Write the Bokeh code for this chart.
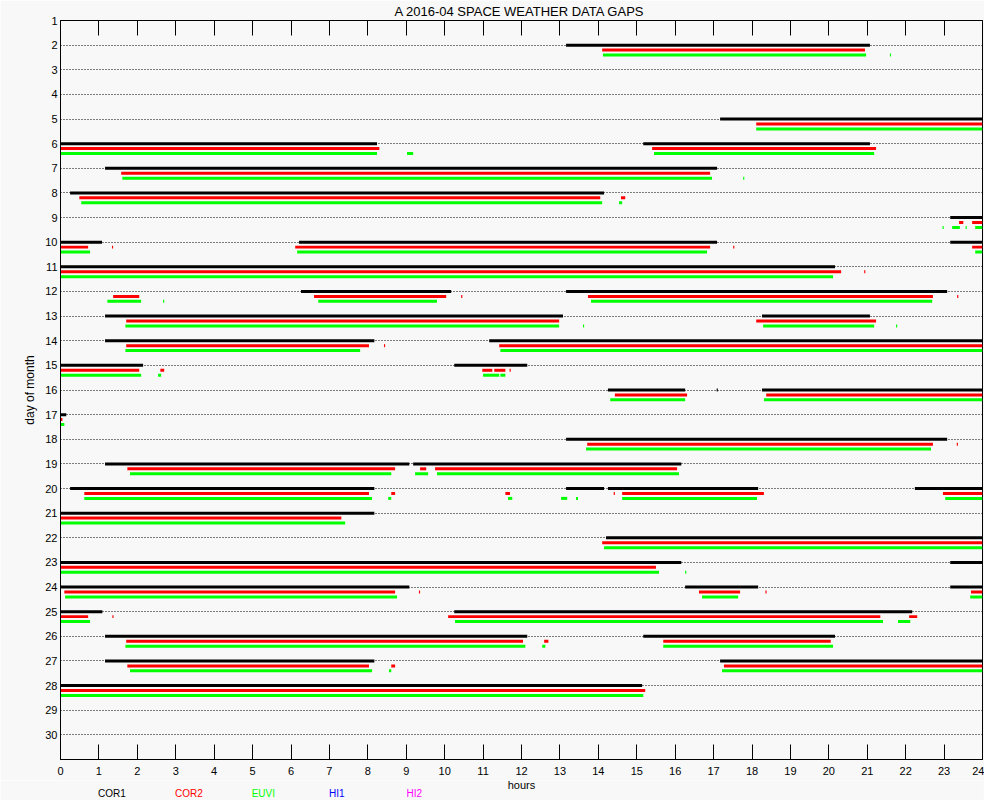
from bokeh.plotting import figure
from bokeh.layouts import column
from bokeh.models import Range1d, FixedTicker, LinearAxis, ColumnDataSource
from bokeh.core.properties import value
from bokeh.embed import file_html
from bokeh.resources import INLINE

TITLE = "A  2016-04 SPACE WEATHER DATA GAPS"
X_LABEL = "hours"
Y_LABEL = "day of month"
hour_ticks = list(range(0, 25))
day_ticks = list(range(1, 31))
legend_names = ["COR1", "COR2", "EUVI", "HI1", "HI2"]
legend_colors = ["#000000", "#ff0000", "#00ff00", "#0000ff", "#ff00ff"]

# ---- COR1 data gaps (day of month, start hour, end hour) ----
cor1_day = [2,
            5,
            6, 6,
            7,
            8,
            9,
            10, 10, 10,
            11,
            12, 12,
            13, 13,
            14, 14,
            15, 15,
            16, 16, 16,
            17,
            18,
            19, 19,
            20, 20, 20, 20,
            21,
            22,
            23, 23,
            24, 24, 24,
            25, 25,
            26, 26,
            27, 27,
            28]
cor1_start = [13.16,
              17.17,
              0.00, 15.17,
              1.16,
              0.25,
              23.16,
              0.00, 6.21, 23.16,
              0.00,
              6.26, 13.16,
              1.16, 18.26,
              1.16, 11.16,
              0.00, 10.25,
              14.25, 17.08, 18.26,
              0.00,
              13.16,
              1.16, 9.18,
              0.25, 13.16, 14.25, 22.24,
              0.00,
              14.20,
              0.00, 23.16,
              0.00, 16.26, 23.16,
              0.00, 10.25,
              1.16, 15.17,
              1.16, 17.17,
              0.00]
cor1_end = [21.07,
            24.00,
            8.24, 21.07,
            17.09,
            14.15,
            24.00,
            1.08, 17.09, 24.00,
            20.16,
            10.17, 23.08,
            13.08, 21.07,
            8.17, 24.00,
            2.15, 12.15,
            16.26, 17.11, 24.00,
            0.15,
            23.08,
            9.08, 16.16,
            8.17, 14.15, 18.16, 24.00,
            8.17,
            24.00,
            16.16, 24.00,
            9.08, 18.16, 24.00,
            1.09, 22.17,
            12.15, 20.16,
            8.17, 24.00,
            15.14]

# ---- COR2 data gaps ----
cor2_day = [2,
            5,
            6, 6,
            7,
            8, 8,
            9, 9,
            10, 10, 10, 10, 10,
            11, 11,
            12, 12, 12, 12, 12,
            13, 13,
            14, 14, 14,
            15, 15, 15, 15, 15,
            16, 16,
            17,
            18, 18,
            19, 19, 19,
            20, 20, 20, 20, 20, 20,
            21,
            22,
            23,
            24, 24, 24, 24, 24,
            25, 25, 25, 25,
            26, 26, 26,
            27, 27, 27,
            28]
cor2_start = [14.10,
              18.11,
              0.00, 15.40,
              1.58,
              0.49, 14.59,
              23.39, 23.73,
              0.00, 1.34, 6.11, 17.51, 23.73,
              0.00, 20.92,
              1.37, 6.60, 10.43, 13.73, 23.34,
              1.71, 18.11,
              1.71, 8.42, 11.42,
              0.00, 2.60, 10.98, 11.29, 11.69,
              14.43, 18.37,
              0.00,
              13.71, 23.33,
              1.74, 9.36, 9.75,
              0.62, 8.61, 11.58, 14.40, 14.62, 22.97,
              0.00,
              14.10,
              0.00,
              0.10, 9.33, 16.62, 18.35, 23.70,
              0.00, 1.35, 10.09, 22.09,
              1.71, 12.59, 15.69,
              1.74, 8.61, 17.27,
              0.00]
cor2_end = [20.94,
            24.00,
            8.30, 21.23,
            16.91,
            14.05, 14.70,
            23.50, 24.00,
            0.72, 1.37, 16.91, 17.54, 24.00,
            20.32, 20.95,
            2.05, 10.04, 10.46, 22.71, 23.37,
            12.98, 21.23,
            8.03, 8.45, 24.00,
            2.05, 2.70, 11.24, 11.58, 11.72,
            16.31, 24.00,
            0.05,
            22.71, 23.36,
            8.71, 9.52, 16.05,
            8.03, 8.71, 11.70, 14.43, 18.31, 24.00,
            7.31,
            24.00,
            15.50,
            8.71, 9.36, 17.69, 18.38, 24.00,
            0.72, 1.38, 21.34, 22.30,
            12.04, 12.70, 20.05,
            8.03, 8.71, 24.00,
            15.22]

# ---- EUVI data gaps ----
euvi_day = [2, 2,
            5,
            6, 6, 6,
            7, 7,
            8, 8,
            9, 9, 9, 9,
            10, 10, 10,
            11,
            12, 12, 12, 12,
            13, 13, 13, 13,
            14, 14,
            15, 15, 15, 15,
            16, 16,
            17,
            18,
            19, 19, 19,
            20, 20, 20, 20, 20, 20, 20,
            21,
            22,
            23, 23,
            24, 24, 24,
            25, 25, 25,
            26, 26, 26,
            27, 27, 27,
            28]
euvi_start = [14.12, 21.59,
              18.11,
              0.00, 9.02, 15.45,
              1.61, 17.77,
              0.54, 14.54,
              22.96, 23.21, 23.56, 23.81,
              0.00, 6.16, 23.81,
              0.00,
              1.22, 2.67, 6.71, 13.81,
              1.69, 13.60, 18.29, 21.75,
              1.69, 11.45,
              0.00, 2.54, 11.00, 11.45,
              14.31, 18.31,
              0.00,
              13.68,
              1.81, 9.23, 9.80,
              0.62, 8.53, 11.65, 13.03, 13.42, 14.62, 23.03,
              0.00,
              14.15,
              0.00, 16.26,
              0.12, 16.70, 23.68,
              0.00, 10.27, 21.80,
              1.69, 12.54, 15.69,
              1.81, 8.55, 17.22,
              0.00]
euvi_end = [20.97, 21.62,
            24.00,
            8.24, 9.18, 21.18,
            16.96, 17.80,
            14.10, 14.62,
            22.99, 23.41, 23.59, 24.00,
            0.77, 16.83, 24.00,
            20.11,
            2.10, 2.70, 9.80, 22.69,
            12.98, 13.63, 21.18, 21.78,
            7.80, 24.00,
            2.10, 2.62, 11.42, 11.58,
            16.26, 24.00,
            0.10,
            22.66,
            8.61, 9.57, 16.10,
            8.11, 8.61, 11.76, 13.19, 13.47, 18.13, 24.00,
            7.41,
            24.00,
            15.58, 16.29,
            8.76, 17.64, 24.00,
            0.77, 21.41, 22.12,
            12.10, 12.62, 20.11,
            8.11, 8.61, 24.00,
            15.17]

# ---- HI1 / HI2: no gaps this month ----
hi1_day, hi1_start, hi1_end = [], [], []
hi2_day, hi2_start, hi2_end = [], [], []

for a, b, c in [(cor1_day, cor1_start, cor1_end), (cor2_day, cor2_start, cor2_end),
                (euvi_day, euvi_start, euvi_end)]:
    assert len(a) == len(b) == len(c), (len(a), len(b), len(c))

BG = "#f8f8f8"
FONT = "Liberation Sans"
PX_PER_DAY = 740 / 30.0

xr = Range1d(0, 24)

p = figure(width=984, height=780, title=None,
           x_range=xr, y_range=Range1d(31, 1),
           output_backend="svg", toolbar_location=None,
           min_border_left=60, min_border_right=2,
           min_border_top=19, min_border_bottom=21,
           background_fill_color=BG, border_fill_color=BG)

p.outline_line_color = "black"
p.outline_line_width = 1

# grid: dotted line at each day
p.xgrid.visible = False
p.ygrid.ticker = FixedTicker(ticks=day_ticks[1:])
p.ygrid.grid_line_color = "black"
p.ygrid.grid_line_dash = "1 2"
p.ygrid.grid_line_width = 1

# bottom axis
xa = p.xaxis[0]
xa.ticker = FixedTicker(ticks=hour_ticks)
xa.major_tick_in = 15
xa.major_tick_out = 0
xa.minor_tick_line_color = None
xa.major_tick_line_color = "black"
xa.axis_line_color = "black"
xa.major_label_standoff = 7
xa.major_label_text_font = FONT
xa.major_label_text_font_size = "11px"
xa.major_label_text_color = "black"

# left axis
ya = p.yaxis[0]
ya.ticker = FixedTicker(ticks=day_ticks)
ya.major_tick_in = 0
ya.major_tick_out = 0
ya.minor_tick_line_color = None
ya.axis_line_color = "black"
ya.major_label_standoff = 3
ya.major_label_text_font = FONT
ya.major_label_text_font_size = "11px"
ya.major_label_text_color = "black"
ya.axis_label = Y_LABEL
ya.axis_label_text_font = FONT
ya.axis_label_text_font_size = "12px"
ya.axis_label_text_font_style = "normal"
ya.axis_label_text_color = "black"
ya.axis_label_standoff = 5

# top axis: unlabeled hour ticks (as minor ticks), chart title as its label
top = LinearAxis(ticker=FixedTicker(ticks=[], minor_ticks=hour_ticks),
                 minor_tick_in=15, minor_tick_out=0, minor_tick_line_color="black",
                 major_tick_line_color=None, axis_line_color="black",
                 major_label_standoff=0,
                 axis_label=TITLE, axis_label_text_font=FONT,
                 axis_label_text_font_size="13px", axis_label_text_font_style="normal",
                 axis_label_text_color="black", axis_label_standoff=2)
p.add_layout(top, "above")

BAR_H = 3.0 / PX_PER_DAY
series = [
    (cor1_day, cor1_start, cor1_end, legend_colors[0], 0.0),
    (cor2_day, cor2_start, cor2_end, legend_colors[1], 0.2),
    (euvi_day, euvi_start, euvi_end, legend_colors[2], 0.4),
    (hi1_day, hi1_start, hi1_end, legend_colors[3], 0.6),
    (hi2_day, hi2_start, hi2_end, legend_colors[4], 0.8),
]
for days, starts, ends, color, off in series:
    src = ColumnDataSource(dict(y=[d + off for d in days], left=starts, right=ends))
    p.hbar(y="y", left="left", right="right", height=BAR_H, source=src,
           fill_color=color, line_color=None)

# footer: x-axis title and instrument legend, same horizontal scale as the chart
f = figure(width=984, height=20, x_range=xr, y_range=Range1d(20, 0),
           output_backend="svg", toolbar_location=None,
           x_axis_location=None, y_axis_location=None,
           min_border_left=60, min_border_right=2, min_border_top=0, min_border_bottom=0,
           background_fill_color=BG, border_fill_color=BG)
f.outline_line_color = None
f.grid.visible = False

f.text(x=[12.0], y=[4.5], text=[X_LABEL], text_align="center", text_baseline="middle",
       text_font=value(FONT), text_font_size="11px", text_color="black")
legend_x = [1.34, 3.34, 5.28, 7.19, 9.21]
f.text(x=legend_x, y=[13.0] * len(legend_names), text=legend_names,
       text_color=legend_colors, text_align="center", text_baseline="middle",
       text_font=value(FONT), text_font_size="10px")

layout = column(p, f, spacing=0)
open("out.html", "w").write(file_html(layout, INLINE))
